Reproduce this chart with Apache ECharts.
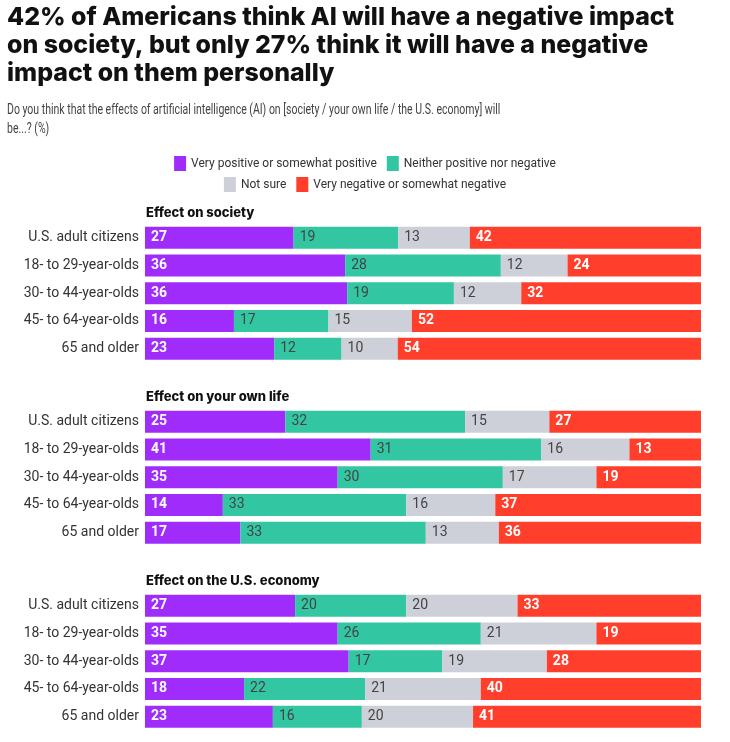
<!DOCTYPE html>
<html><head><meta charset="utf-8">
<script src="https://cdn.jsdelivr.net/npm/echarts@6/dist/echarts.min.js"></script>
<style>html,body{margin:0;padding:0;background:#fff}#c{width:730px;height:742px}</style>
</head><body><div id="c"></div>
<script>
const categories = ["U.S. adult citizens","18- to 29-year-olds","30- to 44-year-olds","45- to 64-year-olds","65 and older"];
const seriesNames = ["Very positive or somewhat positive","Neither positive nor negative","Not sure","Very negative or somewhat negative"];
const panelTitles = ["Effect on society","Effect on your own life","Effect on the U.S. economy"];
// values per panel: [positive, neither, notSure, negative] per category
const societyPositive = [27,36,36,16,23];
const societyNeither  = [19,28,19,17,12];
const societyNotSure  = [13,12,12,15,10];
const societyNegative = [42,24,32,52,54];
const lifePositive = [25,41,35,14,17];
const lifeNeither  = [32,31,30,33,33];
const lifeNotSure  = [15,16,17,16,13];
const lifeNegative = [27,13,19,37,36];
const economyPositive = [27,35,37,18,23];
const economyNeither  = [20,26,17,22,16];
const economyNotSure  = [20,21,19,21,20];
const economyNegative = [33,19,28,40,41];

const panels = [
  [societyPositive, societyNeither, societyNotSure, societyNegative],
  [lifePositive, lifeNeither, lifeNotSure, lifeNegative],
  [economyPositive, economyNeither, economyNotSure, economyNegative]
];
const colors = ["#a02cfb","#33c6a2","#cdd0d8","#ff3e2c"];
const labelColors = ["#fff","#444","#444","#fff"];
const labelWeights = ["bold","normal","normal","bold"];
const gridTops = [224, 408, 592];
const rowH = 27.7;

const chart = echarts.init(document.getElementById('c'));
const grids = [], xAxes = [], yAxes = [], series = [], titles = [];
titles.push({
  text: "42% of Americans think AI will have a negative impact\non society, but only 27% think it will have a negative\nimpact on them personally",
  left: 7, top: 4, padding: 0,
  textStyle: {fontFamily: "Inter", fontWeight: 800, fontSize: 24.9, lineHeight: 28, color: "#111"}
});
panels.forEach((p, i) => {
  titles.push({
    text: panelTitles[i], left: 146, top: gridTops[i] - 17, padding: 0,
    textStyle: {fontFamily: "Inter", fontWeight: 800, fontSize: 13, color: "#111"}
  });
  grids.push({left: 145, right: 29, top: gridTops[i], height: rowH * 5, containLabel: false});
  xAxes.push({type: 'value', gridIndex: i, min: 0, max: 100, show: false});
  yAxes.push({type: 'category', gridIndex: i, data: categories, inverse: true,
    axisLine: {show: false}, axisTick: {show: false}, splitLine: {show: false},
    axisLabel: {fontFamily: "Roboto", fontSize: 14, color: "#333", margin: 6}});
  const sums = categories.map((_, k) => p.reduce((s, arr) => s + arr[k], 0));
  p.forEach((arr, j) => {
    series.push({
      name: seriesNames[j], type: 'bar', stack: 'p' + i, xAxisIndex: i, yAxisIndex: i,
      barWidth: 22,
      itemStyle: {color: colors[j]},
      data: arr.map((v, k) => ({value: v / sums[k] * 100, raw: v})),
      label: {show: true, position: 'insideLeft', distance: 6,
        formatter: prm => prm.data.raw,
        fontFamily: "Roboto", fontSize: 14, color: labelColors[j], fontWeight: labelWeights[j]},
      emphasis: {disabled: true}, animation: false
    });
  });
});
const legendText = {fontFamily: "Roboto", fontSize: 12, color: "#333"};
chart.setOption({
  animation: false,
  color: colors,
  title: titles,
  graphic: [{
    type: 'text', left: 7, top: 101, scaleX: 0.75,
    style: {
      text: "Do you think that the effects of artificial intelligence (AI) on [society / your own life / the U.S. economy] will\nbe...? (%)",
      font: "normal 14px Roboto", lineHeight: 19, fill: "#444"
    }
  }],
  legend: [
    {data: seriesNames.slice(0, 2), top: 151, left: 'center', icon: 'rect', itemWidth: 12, itemHeight: 15, itemGap: 10, textStyle: legendText, selectedMode: false},
    {data: seriesNames.slice(2, 4), top: 172, left: 'center', icon: 'rect', itemWidth: 12, itemHeight: 15, itemGap: 10, textStyle: legendText, selectedMode: false}
  ],
  grid: grids, xAxis: xAxes, yAxis: yAxes, series: series
});
</script></body></html>
